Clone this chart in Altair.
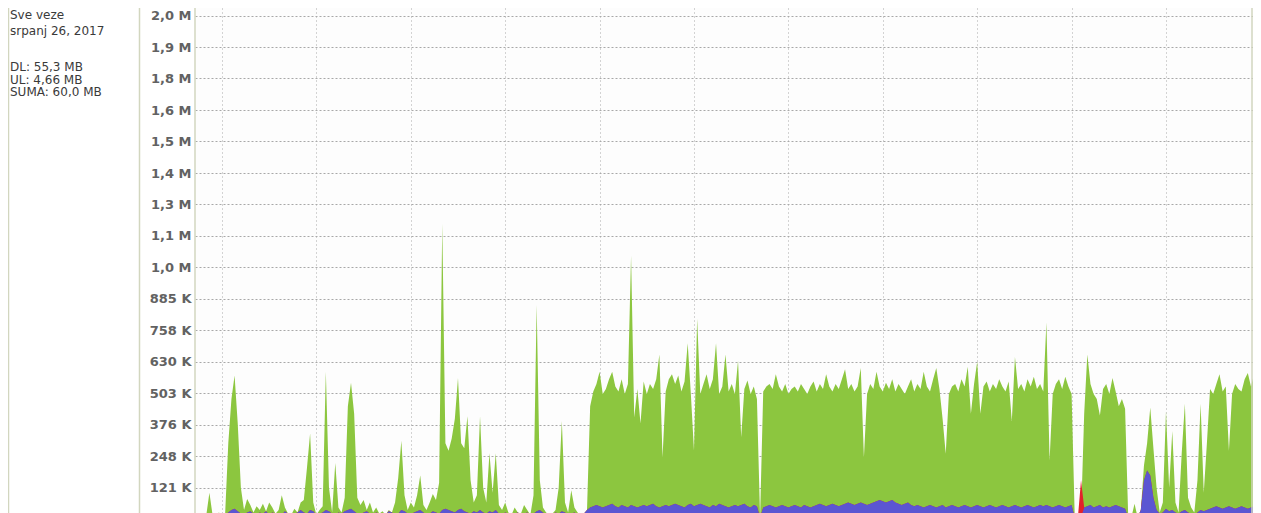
import altair as alt
import pandas as pd

# time axis in minutes (gridline every 60 min), 2-minute samples
minutes = list(range(-16, 657, 2))

# download rate (K/s)
dl_k = [
    5, 10, 15, 8, 100, 10, 5, 20, 10, 15,
    300, 480, 575, 380, 120, 30, 75, 50, 20, 45,
    30, 55, 25, 60, 40, 15, 30, 90, 40, 15,
    10, 35, 20, 60, 70, 200, 340, 60, 10, 30,
    45, 590, 120, 20, 220, 40, 20, 80, 450, 545,
    420, 80, 50, 70, 30, 60, 20, 40, 15, 25,
    10, 30, 20, 60, 160, 310, 90, 30, 60, 40,
    90, 170, 50, 30, 60, 95, 70, 140, 1190, 300,
    270, 320, 400, 565, 300, 280, 410, 150, 60, 90,
    410, 120, 60, 260, 100, 260, 50, 30, 60, 20,
    10, 40, 20, 15, 50, 30, 10, 90, 860, 150,
    40, 20, 10, 15, 30, 120, 390, 60, 20, 110,
    40, 20, 10, 15, 30, 450, 510, 540, 590, 500,
    520, 560, 590, 530, 510, 560, 500, 540, 1060, 405,
    520, 380, 550, 500, 540, 520, 560, 660, 243, 510,
    560, 580, 540, 575, 510, 550, 705, 500, 270, 805,
    500, 540, 580, 520, 560, 705, 500, 530, 660, 510,
    540, 500, 635, 325, 520, 555, 500, 530, 480, 0,
    510, 530, 540, 520, 580, 530, 510, 540, 500, 520,
    530, 510, 540, 520, 500, 530, 550, 510, 540, 520,
    580, 530, 510, 540, 520, 560, 600, 520, 540, 510,
    530, 605, 243, 500, 540, 520, 590, 530, 510, 545,
    520, 560, 510, 540, 520, 500, 530, 560, 510, 540,
    520, 590, 530, 510, 560, 605, 520, 400, 258, 500,
    530, 540, 510, 560, 530, 610, 420, 540, 630, 420,
    530, 550, 510, 540, 520, 560, 530, 510, 550, 390,
    650, 520, 540, 510, 560, 530, 570, 520, 540, 510,
    790, 230, 500, 540, 560, 520, 570, 530, 500, 0,
    0, 0, 420, 660, 540, 500, 480, 413, 520, 540,
    500, 565, 510, 450, 480, 440, 0, 0, 55, 0,
    30, 210, 300, 445, 280, 120, 20, 60, 430, 120,
    350, 60, 20, 260, 460, 80, 40, 20, 150, 460,
    100, 300, 520, 500, 540, 580, 510, 530, 270, 500,
    540, 520, 510, 560, 585, 530, 580,
]

# upload rate (K/s)
ul_k = [
    5, 10, 8, 5, 15, 10, 5, 8, 10, 10,
    20, 30, 35, 25, 15, 10, 20, 25, 15, 10,
    20, 15, 25, 10, 20, 15, 15, 10, 25, 15,
    10, 15, 20, 30, 20, 15, 30, 25, 10, 15,
    20, 30, 25, 15, 10, 20, 15, 25, 30, 35,
    25, 15, 10, 20, 25, 15, 10, 20, 15, 10,
    10, 25, 20, 10, 15, 30, 25, 15, 10, 20,
    25, 30, 20, 10, 15, 25, 20, 15, 30, 35,
    30, 25, 20, 30, 35, 25, 20, 15, 25, 20,
    30, 20, 15, 25, 20, 30, 15, 10, 20, 15,
    10, 15, 20, 10, 15, 20, 10, 15, 25, 30,
    20, 10, 10, 10, 20, 15, 25, 20, 10, 15,
    20, 10, 10, 15, 30, 40, 45, 50, 45, 40,
    45, 50, 55, 45, 40, 50, 45, 40, 50, 45,
    40, 45, 50, 45, 50, 55, 45, 40, 45, 50,
    45, 50, 55, 50, 45, 40, 50, 55, 45, 50,
    55, 50, 45, 40, 50, 45, 55, 50, 45, 40,
    45, 50, 45, 50, 55, 45, 40, 50, 45, 0,
    40, 45, 50, 45, 40, 45, 50, 45, 40, 45,
    50, 45, 40, 50, 45, 40, 45, 50, 55, 50,
    45, 50, 55, 50, 45, 50, 55, 60, 55, 50,
    55, 60, 55, 50, 55, 60, 65, 70, 65, 60,
    65, 70, 60, 55, 50, 55, 60, 50, 45, 50,
    45, 40, 45, 50, 45, 40, 45, 50, 40, 45,
    50, 45, 40, 45, 50, 45, 40, 45, 50, 45,
    40, 45, 50, 45, 40, 45, 50, 45, 40, 45,
    50, 45, 40, 45, 50, 45, 40, 45, 50, 45,
    50, 45, 40, 45, 50, 45, 40, 45, 50, 0,
    0, 150, 40, 45, 50, 40, 45, 50, 40, 45,
    40, 45, 50, 45, 40, 35, 0, 0, 15, 0,
    30, 150, 190, 170, 80, 30, 15, 20, 35, 25,
    30, 20, 15, 25, 30, 20, 15, 10, 20, 30,
    25, 30, 35, 40, 45, 40, 35, 40, 45, 40,
    35, 40, 45, 40, 35, 40, 45,
]

tick_vals = [121, 248, 376, 503, 630, 758, 885, 1013, 1140,
             1268, 1395, 1523, 1650, 1778, 1905, 2033]
tick_labels = ["121 K", "248 K", "376 K", "503 K", "630 K", "758 K", "885 K",
               "1,0 M", "1,1 M", "1,3 M", "1,4 M", "1,5 M", "1,6 M",
               "1,8 M", "1,9 M", "2,0 M"]
hour_marks = [0, 60, 120, 180, 240, 300, 360, 420, 480, 540, 600]

panel_lines = ["Sve veze", "srpanj 26, 2017", "DL: 55,3 MB", "UL: 4,66 MB", "SUMA: 60,0 MB"]

W, H = 1058, 505

df = pd.DataFrame({"t": minutes, "dl": dl_k, "ul": ul_k})

label_expr = (
    "[" + ",".join("'%s'" % s for s in tick_labels) + "]"
    + "[indexof([" + ",".join(str(v) for v in tick_vals) + "], datum.value)]"
)

x_scale = alt.Scale(domain=[-17.16, 655.3], nice=False, zero=False)
y_scale = alt.Scale(domain=[17.8, 2063.5], nice=False, zero=False)

x_axis = alt.Axis(values=hour_marks, tickCount=30, labels=False, ticks=False,
                  domain=False, title=None, grid=True, gridColor="#a8a8a8",
                  gridDash=[1, 3], gridWidth=1)
y_axis = alt.Axis(values=tick_vals, tickCount=40, labelExpr=label_expr, ticks=False,
                  domain=False, title=None, grid=True, gridColor="#a8a8a8",
                  gridDash=[2, 2], gridWidth=1, labelFont="DejaVu Sans",
                  labelFontSize=13, labelFontWeight="bold", labelColor="#626262",
                  labelPadding=4, labelOverlap=False, labelBound=False)

base = alt.Chart(df)

green = base.mark_area(color="#8cc63f", clip=True, interpolate="linear").encode(
    x=alt.X("t:Q", scale=x_scale, axis=x_axis),
    y=alt.Y("dl:Q", scale=y_scale, axis=y_axis),
    y2=alt.datum(0),
)
red = base.mark_area(color="#e3222b", clip=True, interpolate="linear").encode(
    x=alt.X("t:Q", scale=x_scale),
    y=alt.Y("ul:Q", scale=y_scale),
    y2=alt.datum(0),
)
blue = base.transform_calculate(ov="min(datum.dl, datum.ul)").mark_area(
    color="#5b56d2", clip=True, interpolate="linear").encode(
    x=alt.X("t:Q", scale=x_scale),
    y=alt.Y("ov:Q", scale=y_scale),
    y2=alt.datum(0),
)

one = pd.DataFrame({"k": [0]})
border_color = "#d2d6bf"


def vline(px):
    return alt.Chart(one).mark_rule(color=border_color, strokeWidth=1.5).encode(
        x=alt.value(px), y=alt.value(0), y2=alt.value(H))


borders = [vline(-186.5), vline(-55.5), vline(0), vline(W - 1)]

text_y = [7, 23, 59, 71.5, 84]
texts = [
    alt.Chart(one).mark_text(align="left", baseline="middle", font="DejaVu Sans",
                             fontSize=12, color="#3a3a3a").encode(
        x=alt.value(-185), y=alt.value(yy), text=alt.value(s))
    for s, yy in zip(panel_lines, text_y)
]

chart = alt.layer(green, red, blue, *borders, *texts).properties(
    width=W, height=H,
    autosize=alt.AutoSizeParams(type="none"),
    padding={"left": 187, "top": 0, "right": 0, "bottom": 0},
    background="white",
).configure_view(stroke=None, fill="#fdfdfd")

chart.save("out.html", embed_options={"renderer": "svg", "actions": False})
